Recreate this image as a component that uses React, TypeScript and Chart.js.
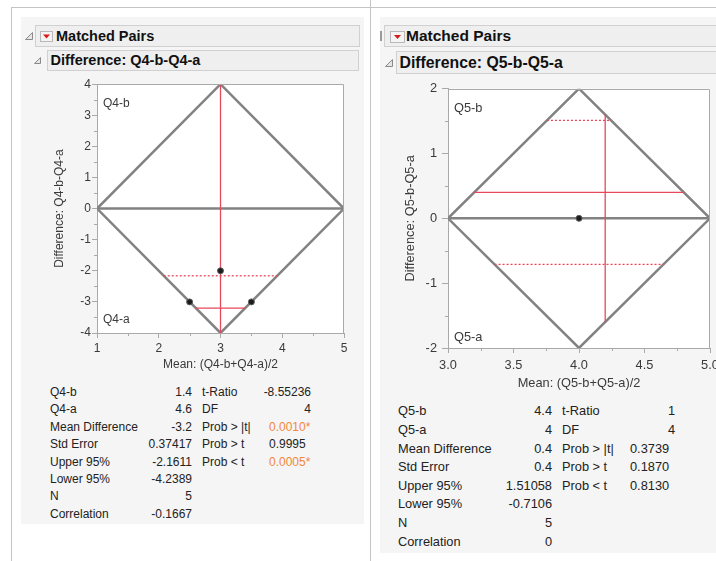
import React, { useEffect, useRef } from "react";
import { Chart, registerables } from "chart.js";

Chart.register(...registerables);

// ---------- Q4 pair (left report) ----------
const q4DiamondX = [1, 3, 5, 3, 1];
const q4DiamondY = [0, 4, 0, -4, 0];
const q4PointX = [3, 2.5, 3.5];
const q4PointY = [-2, -3, -3];
const q4MeanOfMeans = 3;
const q4MeanDiff = -3.2;
const q4CI = [-2.1611, -4.2389];
const q4XRange = [1, 5];
const q4YRange = [-4, 4];

const q4StatLabels = ["Q4-b", "Q4-a", "Mean Difference", "Std Error", "Upper 95%", "Lower 95%", "N", "Correlation"];
const q4StatValues = ["1.4", "4.6", "-3.2", "0.37417", "-2.1611", "-4.2389", "5", "-0.1667"];
const q4TestLabels = ["t-Ratio", "DF", "Prob > |t|", "Prob > t", "Prob < t"];
const q4TestValues = ["-8.55236", "4", "0.0010*", "0.9995", "0.0005*"];

// ---------- Q5 pair (right report) ----------
const q5DiamondX = [3, 4, 5, 4, 3];
const q5DiamondY = [0, 2, 0, -2, 0];
const q5PointX = [4];
const q5PointY = [0];
const q5MeanOfMeans = 4.2;
const q5MeanDiff = 0.4;
const q5CI = [1.51058, -0.7106];
const q5XRange = [3, 5];
const q5YRange = [-2, 2];

const q5StatLabels = ["Q5-b", "Q5-a", "Mean Difference", "Std Error", "Upper 95%", "Lower 95%", "N", "Correlation"];
const q5StatValues = ["4.4", "4", "0.4", "0.4", "1.51058", "-0.7106", "5", "0"];
const q5TestLabels = ["t-Ratio", "DF", "Prob > |t|", "Prob > t", "Prob < t"];
const q5TestValues = ["1", "4", "0.3739", "0.1870", "0.8130"];

const FONT = '"Liberation Sans", Arial, sans-serif';
const RED = "#e9475a";
const GRAY = "#828282";
const FRAME = "#a9a9a9";
const TICKTEXT = "#3a3a3a";

type Spec = {
  xRange: number[]; yRange: number[];
  xStep: number; yStep: number; xMinor: number; yMinor: number; xDec: number;
  diamondX: number[]; diamondY: number[];
  pointX: number[]; pointY: number[];
  center: number; meanDiff: number; ci: number[];
  xTitle: string; yTitle: string; topLabel: string; bottomLabel: string;
  font: number; yWidth: number; xHeight: number; padTop: number; padRight: number;
  yTitlePad: number; xTitlePad: number; yTickLen: number; yTickPad: number; xTickPad: number;
  labelTop: number; labelBottom: number;
};

const jmpPlugin = {
  id: "jmp",
  beforeDraw(chart: any) {
    const { ctx, chartArea: a } = chart;
    ctx.save();
    ctx.fillStyle = "#ffffff";
    ctx.fillRect(a.left, a.top, a.right - a.left, a.bottom - a.top);
    ctx.restore();
  },
  afterDraw(chart: any, _args: any, o: any) {
    const { ctx, chartArea: a, scales } = chart;
    const xs = scales.x, ys = scales.y;
    ctx.save();
    ctx.strokeStyle = FRAME;
    ctx.lineWidth = 1;
    ctx.beginPath();
    const L = Math.round(a.left) + 0.5, R = Math.round(a.right) - 0.5, T = Math.round(a.top) + 0.5;
    ctx.moveTo(L, T); ctx.lineTo(R, T); ctx.lineTo(R, Math.round(a.bottom));
    const isMajor = (v: number, step: number) => Math.abs(v / step - Math.round(v / step)) < 1e-6;
    for (let v = o.xMin; v <= o.xMax + 1e-9; v += o.xMinor) {
      if (isMajor(v, o.xStep)) continue;
      const px = Math.round(xs.getPixelForValue(v)) + 0.5;
      ctx.moveTo(px, a.bottom); ctx.lineTo(px, a.bottom + 3);
    }
    for (let v = o.yMin; v <= o.yMax + 1e-9; v += o.yMinor) {
      if (isMajor(v, o.yStep)) continue;
      const py = Math.round(ys.getPixelForValue(v)) + 0.5;
      ctx.moveTo(a.left - 3, py); ctx.lineTo(a.left, py);
    }
    ctx.stroke();
    ctx.fillStyle = TICKTEXT;
    ctx.font = `${o.font}px ${FONT}`;
    ctx.textBaseline = "middle";
    ctx.textAlign = "left";
    ctx.fillText(o.topLabel, a.left + 6, a.top + o.labelTop);
    ctx.fillText(o.bottomLabel, a.left + 6, a.bottom - o.labelBottom);
    ctx.restore();
  },
};

function makeChart(canvas: HTMLCanvasElement, s: Spec) {
  const [xMin, xMax] = s.xRange;
  const [yMin, yMax] = s.yRange;
  const xc = (xMin + xMax) / 2;
  const hx = (xMax - xMin) / 2;
  const halfWidthAt = (y: number) => hx * (1 - Math.abs(y) / yMax);
  const halfHeightAt = (x: number) => yMax * (1 - Math.abs(x - xc) / hx);

  const datasets: any[] = [];
  datasets.push({
    data: s.pointX.map((x, i) => ({ x, y: s.pointY[i] })),
    showLine: false, pointRadius: 3, pointBackgroundColor: "#1c1c1c",
    pointBorderColor: "#5e5e5e", pointBorderWidth: 1, order: 0,
  });
  const hh = halfHeightAt(s.center);
  datasets.push({
    data: [{ x: s.center, y: -hh }, { x: s.center, y: hh }],
    showLine: true, borderColor: RED, borderWidth: 1.3, pointRadius: 0, order: 1,
  });
  const hLines = [{ y: s.meanDiff, dash: [] as number[] }, ...s.ci.map((y) => ({ y, dash: [2, 2] }))];
  hLines.forEach((l) => {
    const hw = halfWidthAt(l.y);
    if (hw <= 0) return;
    datasets.push({
      data: [{ x: xc - hw, y: l.y }, { x: xc + hw, y: l.y }],
      showLine: true, borderColor: RED, borderDash: l.dash, borderWidth: 1.3, pointRadius: 0, order: 1,
    });
  });
  datasets.push({
    data: s.diamondX.map((x, i) => ({ x, y: s.diamondY[i] })),
    showLine: true, borderColor: GRAY, borderWidth: 2.5, pointRadius: 0,
    borderJoinStyle: "miter", order: 2,
  });
  datasets.push({
    data: [{ x: xMin, y: 0 }, { x: xMax, y: 0 }],
    showLine: true, borderColor: GRAY, borderWidth: 2.5, pointRadius: 0, order: 2,
  });

  const tickFont = { family: FONT, size: s.font };
  return new Chart(canvas, {
    type: "scatter",
    data: { datasets },
    plugins: [jmpPlugin],
    options: {
      animation: false,
      responsive: false,
      devicePixelRatio: 1,
      events: [],
      layout: { padding: { top: s.padTop, right: s.padRight, left: 0, bottom: 0 } },
      plugins: {
        legend: { display: false },
        tooltip: { enabled: false },
        jmp: {
          xMin, xMax, yMin, yMax, xStep: s.xStep, yStep: s.yStep, xMinor: s.xMinor, yMinor: s.yMinor,
          font: s.font, topLabel: s.topLabel, bottomLabel: s.bottomLabel,
          labelTop: s.labelTop, labelBottom: s.labelBottom,
        },
      } as any,
      scales: {
        x: {
          type: "linear", min: xMin, max: xMax,
          ticks: {
            stepSize: s.xStep, autoSkip: false, maxRotation: 0, color: TICKTEXT, font: tickFont,
            padding: s.xTickPad, callback: (v: any) => Number(v).toFixed(s.xDec),
          },
          grid: { drawOnChartArea: false, drawTicks: true, tickLength: 5, tickColor: FRAME, color: FRAME },
          border: { display: true, color: FRAME, width: 1 },
          title: {
            display: true, text: s.xTitle, color: TICKTEXT, font: tickFont,
            padding: { top: 0, bottom: s.xTitlePad },
          },
          afterFit: (sc: any) => { sc.height = s.xHeight; },
        },
        y: {
          type: "linear", min: yMin, max: yMax,
          ticks: {
            stepSize: s.yStep, autoSkip: false, color: TICKTEXT, font: tickFont,
            padding: s.yTickPad, callback: (v: any) => String(Math.round(Number(v))),
          },
          grid: { drawOnChartArea: false, drawTicks: true, tickLength: s.yTickLen, tickColor: FRAME, color: FRAME },
          border: { display: true, color: FRAME, width: 1 },
          title: {
            display: true, text: s.yTitle, color: TICKTEXT, font: tickFont,
            padding: { top: s.yTitlePad, bottom: 0 },
          },
          afterFit: (sc: any) => { sc.width = s.yWidth; },
        },
      },
    } as any,
  });
}

const spec4: Spec = {
  xRange: q4XRange, yRange: q4YRange, xStep: 1, yStep: 1, xMinor: 0.5, yMinor: 0.5, xDec: 0,
  diamondX: q4DiamondX, diamondY: q4DiamondY, pointX: q4PointX, pointY: q4PointY,
  center: q4MeanOfMeans, meanDiff: q4MeanDiff, ci: q4CI,
  xTitle: "Mean: (Q4-b+Q4-a)/2", yTitle: "Difference: Q4-b-Q4-a", topLabel: "Q4-b", bottomLabel: "Q4-a",
  font: 12, yWidth: 57, xHeight: 43, padTop: 8, padRight: 16,
  yTitlePad: 12.8, xTitlePad: 3.8, yTickLen: 5, yTickPad: 1, xTickPad: 3,
  labelTop: 19, labelBottom: 13,
};

const spec5: Spec = {
  xRange: q5XRange, yRange: q5YRange, xStep: 0.5, yStep: 1, xMinor: 0.25, yMinor: 0.5, xDec: 1,
  diamondX: q5DiamondX, diamondY: q5DiamondY, pointX: q5PointX, pointY: q5PointY,
  center: q5MeanOfMeans, meanDiff: q5MeanDiff, ci: q5CI,
  xTitle: "Mean: (Q5-b+Q5-a)/2", yTitle: "Difference: Q5-b-Q5-a", topLabel: "Q5-b", bottomLabel: "Q5-a",
  font: 12.8, yWidth: 63, xHeight: 48, padTop: 10, padRight: 24,
  yTitlePad: 17.3, xTitlePad: 5.3, yTickLen: 6, yTickPad: 5, xTickPad: 4.5,
  labelTop: 20, labelBottom: 11,
};

function PlotCanvas(props: { spec: Spec; left: number; top: number; width: number; height: number }) {
  const ref = useRef<HTMLCanvasElement>(null);
  useEffect(() => {
    const c = makeChart(ref.current as HTMLCanvasElement, props.spec);
    return () => c.destroy();
  }, []);
  return (
    <canvas
      ref={ref}
      width={props.width}
      height={props.height}
      style={{ position: "absolute", left: props.left, top: props.top, width: props.width, height: props.height }}
    />
  );
}

function Tri(props: { left: number; top: number; size: number }) {
  const s = props.size;
  return (
    <svg style={{ position: "absolute", left: props.left, top: props.top }} width={s} height={s}>
      <polygon points={`${s - 0.5},0.5 ${s - 0.5},${s - 0.5} 0.5,${s - 0.5}`} fill="#e6e6e6" stroke="#8a8a8a" strokeWidth={1} />
    </svg>
  );
}

function Dropdown(props: { left: number; top: number; w: number; h: number }) {
  const { w, h } = props;
  return (
    <svg style={{ position: "absolute", left: props.left, top: props.top }} width={w} height={h}>
      <rect x={0.5} y={0.5} width={w - 1} height={h - 1} fill="#f4f4f4" stroke="#b8b8b8" />
      <polygon points={`${w / 2 - 3.5},${h / 2 - 2} ${w / 2 + 3.5},${h / 2 - 2} ${w / 2},${h / 2 + 2}`} fill="#d91a1a" />
    </svg>
  );
}

function HeaderBox(props: { left: number; top: number; width: number; height: number; text: string; textLeft: number; size: number }) {
  return (
    <>
      <div
        style={{
          position: "absolute", left: props.left, top: props.top, width: props.width, height: props.height,
          background: "#efefef", border: "1px solid #d0d0d0", boxSizing: "border-box",
        }}
      />
      <div
        style={{
          position: "absolute", left: props.textLeft, top: props.top, height: props.height,
          lineHeight: `${props.height}px`, fontSize: props.size, fontWeight: "bold", color: "#111",
          whiteSpace: "nowrap",
        }}
      >
        {props.text}
      </div>
    </>
  );
}

function StatsTable(props: {
  top: number; rowH: number; size: number;
  labelX: number; valueR: number; testX: number; testR: number; probX: number;
  labels: string[]; values: string[]; testLabels: string[]; testValues: string[];
}) {
  const p = props;
  const cell = (key: string, content: string, style: any) => (
    <div key={key} style={{ position: "absolute", whiteSpace: "nowrap", height: p.rowH, lineHeight: `${p.rowH}px`, ...style }}>
      {content}
    </div>
  );
  const out: any[] = [];
  p.labels.forEach((l, i) => {
    const top = p.top + i * p.rowH;
    out.push(cell(`l${i}`, l, { left: p.labelX, top }));
    out.push(cell(`v${i}`, p.values[i], { left: p.valueR - 120, width: 120, textAlign: "right", top }));
  });
  p.testLabels.forEach((l, i) => {
    const top = p.top + i * p.rowH;
    out.push(cell(`tl${i}`, l, { left: p.testX, top }));
    const v = p.testValues[i];
    if (i < 2) {
      out.push(cell(`tv${i}`, v, { left: p.testR - 120, width: 120, textAlign: "right", top }));
    } else {
      out.push(cell(`tv${i}`, v, { left: p.probX, top, color: v.endsWith("*") ? "#f0883c" : "#222" }));
    }
  });
  return <div style={{ position: "absolute", left: 0, top: 0, fontSize: p.size, color: "#222" }}>{out}</div>;
}

export default function App() {
  useEffect(() => {
    document.body.style.margin = "0";
  }, []);
  return (
    <div
      style={{
        position: "fixed", left: 0, top: 0, width: 716, height: 561, background: "#ffffff",
        overflow: "hidden", fontFamily: FONT,
      }}
    >
      {/* window frame lines */}
      <div style={{ position: "absolute", left: 11, top: 7, width: 705, height: 1, background: "#c4c4c4" }} />
      <div style={{ position: "absolute", left: 11, top: 7, width: 1, height: 554, background: "#c4c4c4" }} />
      <div style={{ position: "absolute", left: 370, top: 0, width: 1, height: 561, background: "#c4c4c4" }} />

      {/* report panels */}
      <div style={{ position: "absolute", left: 21, top: 17, width: 343, height: 507, background: "#f5f5f5" }} />
      <div style={{ position: "absolute", left: 380, top: 17, width: 336, height: 536, background: "#f5f5f5" }} />

      {/* left headers */}
      <Tri left={25} top={32} size={8} />
      <HeaderBox left={35} top={25} width={325} height={22} text="Matched Pairs" textLeft={56} size={14.5} />
      <Dropdown left={40} top={31} w={13} h={11} />
      <Tri left={34} top={57} size={7} />
      <HeaderBox left={47} top={50} width={312} height={21} text="Difference: Q4-b-Q4-a" textLeft={50.5} size={14.5} />

      {/* right headers */}
      <div style={{ position: "absolute", left: 380, top: 31, width: 2, height: 10, background: "#9a9a9a" }} />
      <HeaderBox left={384} top={25} width={400} height={22} text="Matched Pairs" textLeft={406} size={15.5} />
      <Dropdown left={390} top={31} w={15} h={12} />
      <Tri left={385} top={59} size={8} />
      <HeaderBox left={396} top={51} width={400} height={23} text="Difference: Q5-b-Q5-a" textLeft={399.5} size={15.8} />

      {/* plots */}
      <PlotCanvas spec={spec4} left={40} top={76} width={320} height={300} />
      <PlotCanvas spec={spec5} left={385} top={76} width={349} height={320} />

      {/* statistics */}
      <StatsTable
        top={384} rowH={17.4} size={12}
        labelX={50} valueR={192} testX={202} testR={311} probX={269}
        labels={q4StatLabels} values={q4StatValues} testLabels={q4TestLabels} testValues={q4TestValues}
      />
      <StatsTable
        top={402.4} rowH={18.6} size={12.8}
        labelX={398} valueR={552} testX={562} testR={675} probX={630}
        labels={q5StatLabels} values={q5StatValues} testLabels={q5TestLabels} testValues={q5TestValues}
      />
    </div>
  );
}
